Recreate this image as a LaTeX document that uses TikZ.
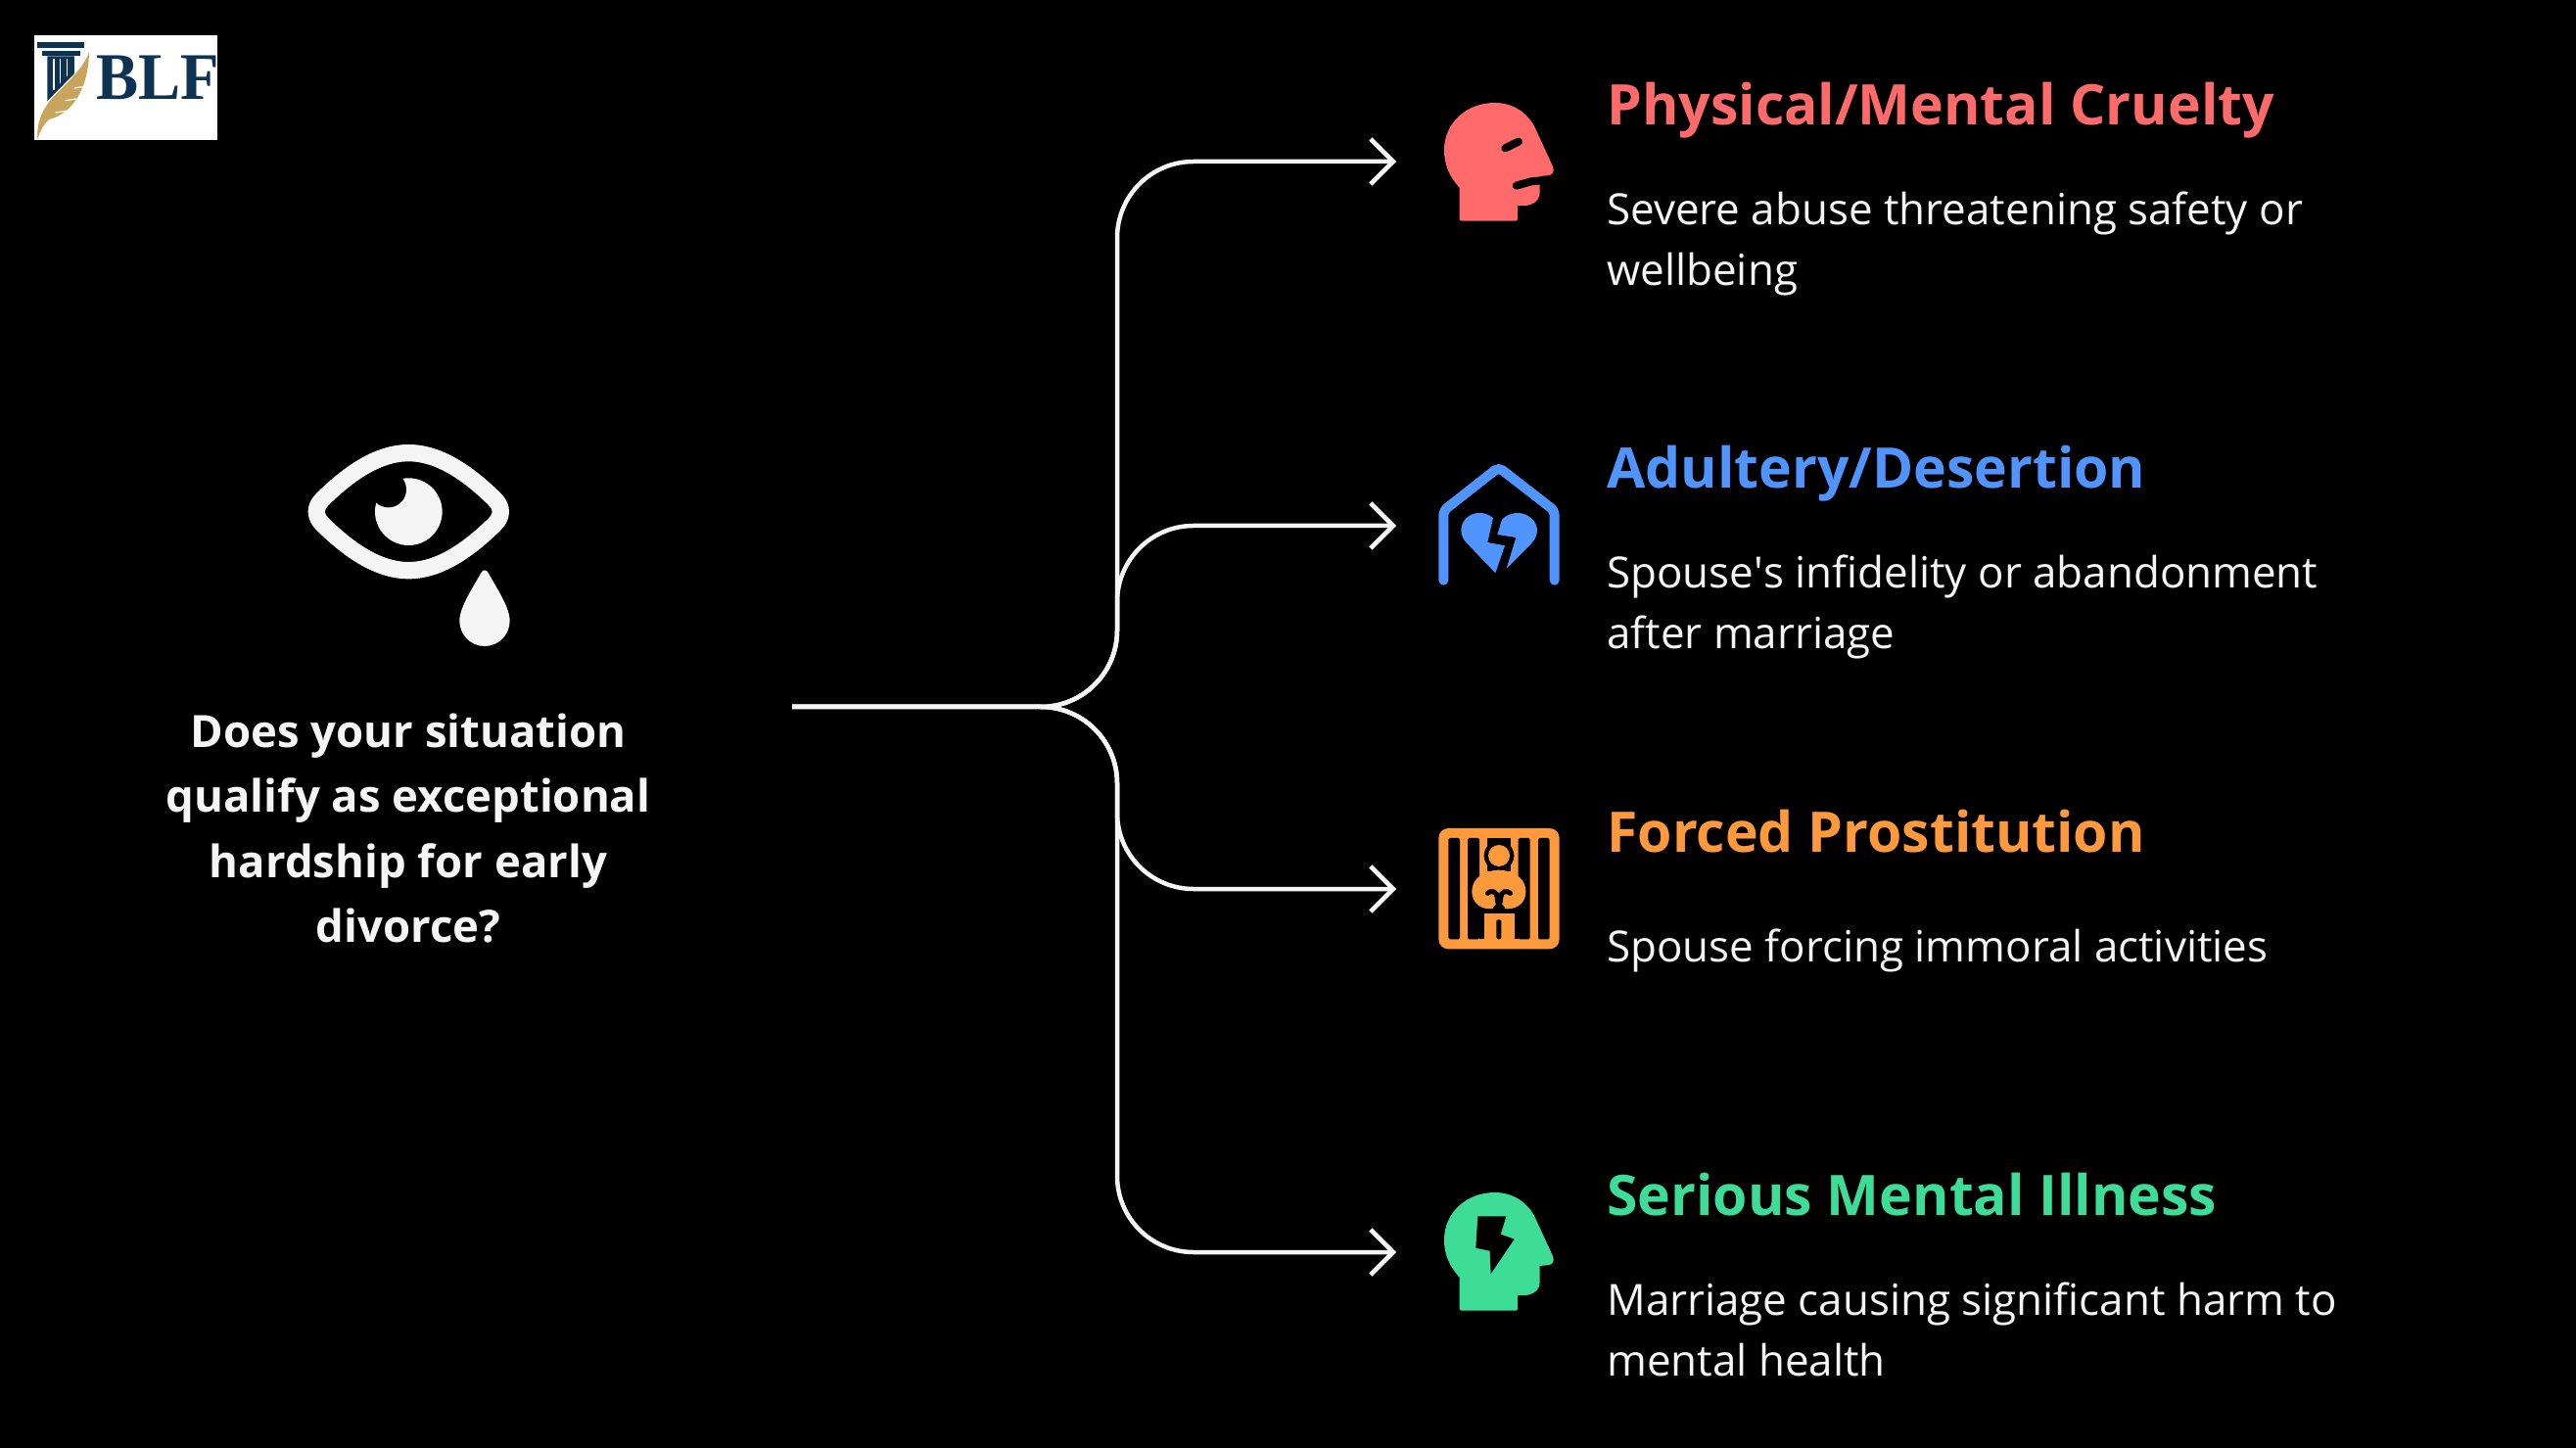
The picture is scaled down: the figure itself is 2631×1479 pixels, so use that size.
\documentclass[tikz,border=0pt]{standalone}
\usepackage{fontspec}
\usetikzlibrary{arrows.meta}
\setmainfont{Open Sans}
\newfontfamily\logofont{Liberation Serif}
\definecolor{paper}{HTML}{F5F5F5}
\definecolor{cruelty}{HTML}{FF6B6B}
\definecolor{adultery}{HTML}{4F94FF}
\definecolor{prison}{HTML}{FF9A3C}
\definecolor{illness}{HTML}{3DDC97}
\definecolor{navy}{HTML}{0E3352}
\definecolor{quill}{HTML}{C9A45C}
\newcommand{\headshape}{(152,400) -- (152,305) .. controls (120,270) and (105,235) .. (105,190) .. controls (105,105) and (175,45) .. (260,45) .. controls (320,45) and (365,80) .. (385,125) -- (438,240) .. controls (445,258) and (435,268) .. (420,268) -- (398,270) -- (398,320) .. controls (398,345) and (375,360) .. (350,360) -- (330,360) -- (330,400) .. controls (330,405) and (328,407) .. (323,407) -- (159,407) .. controls (154,407) and (152,405) .. (152,400) -- cycle}
\begin{document}
\begin{tikzpicture}[
		x=0.02cm, y=-0.02cm,
		iconbox/.style={minimum width=4.2cm, minimum height=1cm, inner sep=0pt, outer sep=0pt},
		branch/.style={draw=paper, line width=0.09cm, rounded corners=1.56cm},
		tipped/.style={branch, -{Straight Barb[length=0.46cm, width=0.92cm]}},
		cardtitle/.style={anchor=base west, inner sep=0pt, font=\fontsize{32.5}{39}\selectfont\bfseries},
		carddesc/.style={anchor=west, inner sep=0pt, align=left, text=paper, font=\fontsize{25}{35.3}\selectfont},
		zoomed/.style={x=0.006667cm, y=-0.006667cm}
	]
  \fill[black] (0,0) rectangle (2631,1479);

  \fill[white] (35,36) rectangle (222,143);
  \begin{scope}[zoomed]
    \fill[navy] (113,128) rectangle (258,148);
    \fill[navy] (128,155) rectangle (245,172);
    \fill[navy] (145,172) -- (228,172) -- (228,225) -- (145,310) -- cycle;
    \draw[white, line width=0.03cm] (165,180) -- (165,275) (185,180) -- (185,255) (205,180) -- (205,235);
    \fill[quill] (273,160) .. controls (272,250) and (235,345) .. (150,366) .. controls (130,385) and (122,405) .. (115,425) .. controls (112,395) and (120,355) .. (145,320) .. controls (175,275) and (250,225) .. (273,160) -- cycle;
    \draw[white, line width=0.025cm] (228,270) -- (262,265) (200,308) -- (235,303) (170,345) -- (205,340);
    \node (logo) [inner sep=0pt, anchor=base west, text=navy, xscale=0.95, font=\fontsize{38.7}{40}\selectfont\logofont\bfseries] at (295,305) {BLF};
  \end{scope}

  \begin{scope}[shift={(280,430)}, zoomed]
    \draw[paper, line width=0.347cm, line join=round] (130,278) .. controls (130,262) and (138,250) .. (150,238) .. controls (225,165) and (315,98) .. (412,98) .. controls (509,98) and (599,165) .. (674,238) .. controls (686,250) and (694,262) .. (694,278) .. controls (694,294) and (686,306) .. (674,318) .. controls (599,391) and (509,458) .. (412,458) .. controls (315,458) and (225,391) .. (150,318) .. controls (138,306) and (130,294) .. (130,278) -- cycle;
    \fill[paper] (412,278) circle (103);
    \fill[black] (350,210) circle (55);
    \fill[paper] (634,465) .. controls (640,455) and (650,455) .. (656,465) .. controls (680,510) and (722,570) .. (722,612) .. controls (722,655) and (688,690) .. (645,690) .. controls (602,690) and (568,655) .. (568,612) .. controls (568,570) and (610,510) .. (634,465) -- cycle;
  \end{scope}

  \node (question) [inner sep=0pt, align=center, text=paper, font=\fontsize{25.9}{37.6}\selectfont\bfseries] at (417,846) {Does your situation\\qualify as exceptional\\hardship for early\\divorce?};

  \coordinate (stem_start) at (809,722);
  \coordinate (bus) at (1141,722);
  \node (cruelty_icon) [iconbox] at (1531,165) {};
  \node (adultery_icon) [iconbox] at (1531,537) {};
  \node (prison_icon) [iconbox] at (1531,908) {};
  \node (illness_icon) [iconbox] at (1531,1279) {};

  \draw[tipped] (stem_start) -- (bus) -- (bus |- cruelty_icon) -- (cruelty_icon.west);
  \draw[tipped] (stem_start) -- (bus) -- (bus |- adultery_icon) -- (adultery_icon.west);
  \draw[tipped] (stem_start) -- (bus) -- (bus |- prison_icon) -- (prison_icon.west);
  \draw[tipped] (stem_start) -- (bus) -- (bus |- illness_icon) -- (illness_icon.west);

  \begin{scope}[shift={(1440,90)}, zoomed]
    \fill[cruelty] \headshape;
    \draw[black, line width=0.16cm, line cap=round] (292,184) -- (333,164);
    \draw[black, line width=0.16cm, line cap=round] (326,299) -- (372,286);
    \draw[black, line width=0.16cm] (372,286) -- (405,283);
  \end{scope}

  \begin{scope}[shift={(1440,460)}, zoomed]
    \draw[adultery, line width=0.2cm, line cap=round, rounded corners=0.1cm] (103,398) -- (103,185) -- (272,52) -- (443,185) -- (443,398);
    \fill[adultery] (255,207) .. controls (240,195) and (222,190) .. (207,192) .. controls (178,195) and (157,218) .. (157,245) .. controls (157,262) and (165,275) .. (175,285) -- (262,376) -- (291,292) -- (238,282) -- cycle;
    \fill[adultery] (282,212) .. controls (295,198) and (318,190) .. (335,192) .. controls (365,195) and (390,218) .. (390,245) .. controls (390,262) and (382,275) .. (370,288) -- (296,362) -- (325,267) -- (268,258) -- cycle;
  \end{scope}

  \begin{scope}[shift={(1440,830)}, zoomed]
    \fill[prison, rounded corners=0.2cm] (88,48) rectangle (458,418);
    \fill[black, rounded corners=0.03cm] (118,78) rectangle (153,388);
    \fill[black, rounded corners=0.03cm] (177,78) rectangle (213,388);
    \fill[black, rounded corners=0.03cm] (332,78) rectangle (368,388);
    \fill[black, rounded corners=0.03cm] (393,78) rectangle (428,388);
    \fill[black] (213,285) rectangle (332,388);
    \fill[black] (238,78) rectangle (308,180);
    \fill[black] (273,132) circle (46);
    \fill[prison] (273,132) circle (33);
    \fill[prison] (272,176) .. controls (245,176) and (190,190) .. (190,243) .. controls (190,275) and (215,295) .. (245,295) .. controls (258,295) and (268,292) .. (272,285) .. controls (276,292) and (288,295) .. (300,295) .. controls (330,295) and (355,275) .. (355,243) .. controls (355,190) and (300,176) .. (272,176) -- cycle;
    \fill[prison] (228,308) rectangle (320,400);
    \fill[black, rounded corners=0.03cm] (265,328) rectangle (280,388);
    \draw[black, line width=0.1cm, line cap=round] (238,247) .. controls (250,236) and (268,242) .. (268,262) .. controls (268,278) and (272,285) .. (283,292);
    \draw[black, line width=0.1cm, line cap=round] (308,247) .. controls (296,236) and (278,242) .. (278,262) .. controls (278,278) and (274,285) .. (263,292);
  \end{scope}

  \begin{scope}[shift={(1440,1203)}, zoomed]
    \fill[illness] \headshape;
    \fill[black] (208,118) -- (295,118) -- (278,173) -- (320,188) -- (248,294) -- (245,224) -- (202,215) -- cycle;
  \end{scope}

  \node (cruelty_title) [cardtitle, text=cruelty] at (1641,128) {Physical/Mental Cruelty};
  \node (cruelty_desc) [carddesc] at (1641,249) {Severe abuse threatening safety or\\wellbeing};
  \node (adultery_title) [cardtitle, text=adultery] at (1641,499) {Adultery/Desertion};
  \node (adultery_desc) [carddesc] at (1641,620) {Spouse\textquotesingle s infidelity or abandonment\\after marriage};
  \node (prison_title) [cardtitle, text=prison] at (1641,870) {Forced Prostitution};
  \node (prison_desc) [carddesc] at (1641,971) {Spouse forcing immoral activities};
  \node (illness_title) [cardtitle, text=illness] at (1641,1241) {Serious Mental Illness};
  \node (illness_desc) [carddesc] at (1641,1358) {Marriage causing significant harm to\\mental health};
\end{tikzpicture}
\end{document}
